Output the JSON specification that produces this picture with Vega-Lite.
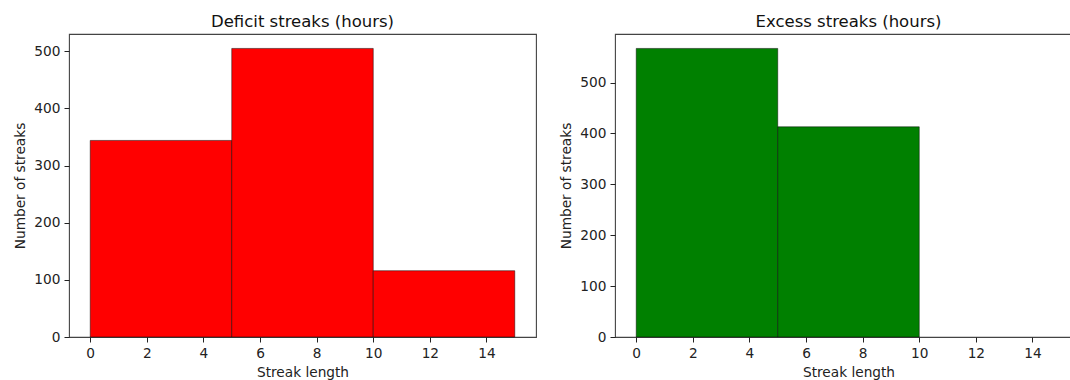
{
  "$schema": "https://vega.github.io/schema/vega-lite/v6.json",
  "padding": {"left": 13, "top": 12, "right": 0, "bottom": 0},
  "spacing": 22,
  "config": {
    "font": "DejaVu Sans",
    "view": {"stroke": "#444", "strokeWidth": 1.1},
    "axis": {
      "domain": false,
      "grid": false,
      "tickColor": "#222",
      "tickSize": 5,
      "tickWidth": 1,
      "labelFont": "DejaVu Sans",
      "labelFontSize": 13.7,
      "labelColor": "#222",
      "labelPadding": 4,
      "titleFont": "DejaVu Sans",
      "titleFontSize": 13.7,
      "titleFontWeight": "normal",
      "titleColor": "#222",
      "titlePadding": 6
    },
    "title": {"font": "DejaVu Sans", "fontSize": 16.5, "fontWeight": "normal", "color": "#111", "offset": 4}
  },
  "hconcat": [
    {
      "title": "Deficit streaks (hours)",
      "width": 467,
      "height": 303,
      "data": {"values": [
        {"bin_start": 0, "bin_end": 5, "count": 344},
        {"bin_start": 5, "bin_end": 10, "count": 505},
        {"bin_start": 10, "bin_end": 15, "count": 116}
      ]},
      "mark": {"type": "bar", "color": "#ff0000", "stroke": "#000", "strokeWidth": 0.6, "strokeOpacity": 0.8},
      "encoding": {
        "x": {"field": "bin_start", "type": "quantitative", "title": "Streak length",
              "scale": {"domain": [-0.75, 15.75], "nice": false, "zero": false},
              "axis": {"values": [0, 2, 4, 6, 8, 10, 12, 14], "labelFlush": false}},
        "x2": {"field": "bin_end"},
        "y": {"field": "count", "type": "quantitative", "title": "Number of streaks",
              "scale": {"domain": [0, 530.25], "nice": false},
              "axis": {"values": [0, 100, 200, 300, 400, 500], "labelFlush": false}},
        "y2": {"datum": 0}
      }
    },
    {
      "title": "Excess streaks (hours)",
      "width": 467,
      "height": 303,
      "data": {"values": [
        {"bin_start": 0, "bin_end": 5, "count": 567},
        {"bin_start": 5, "bin_end": 10, "count": 413}
      ]},
      "mark": {"type": "bar", "color": "#008000", "stroke": "#000", "strokeWidth": 0.6, "strokeOpacity": 0.8},
      "encoding": {
        "x": {"field": "bin_start", "type": "quantitative", "title": "Streak length",
              "scale": {"domain": [-0.75, 15.75], "nice": false, "zero": false},
              "axis": {"values": [0, 2, 4, 6, 8, 10, 12, 14], "labelFlush": false}},
        "x2": {"field": "bin_end"},
        "y": {"field": "count", "type": "quantitative", "title": "Number of streaks",
              "scale": {"domain": [0, 595.35], "nice": false},
              "axis": {"values": [0, 100, 200, 300, 400, 500], "labelFlush": false}},
        "y2": {"datum": 0}
      }
    }
  ]
}
